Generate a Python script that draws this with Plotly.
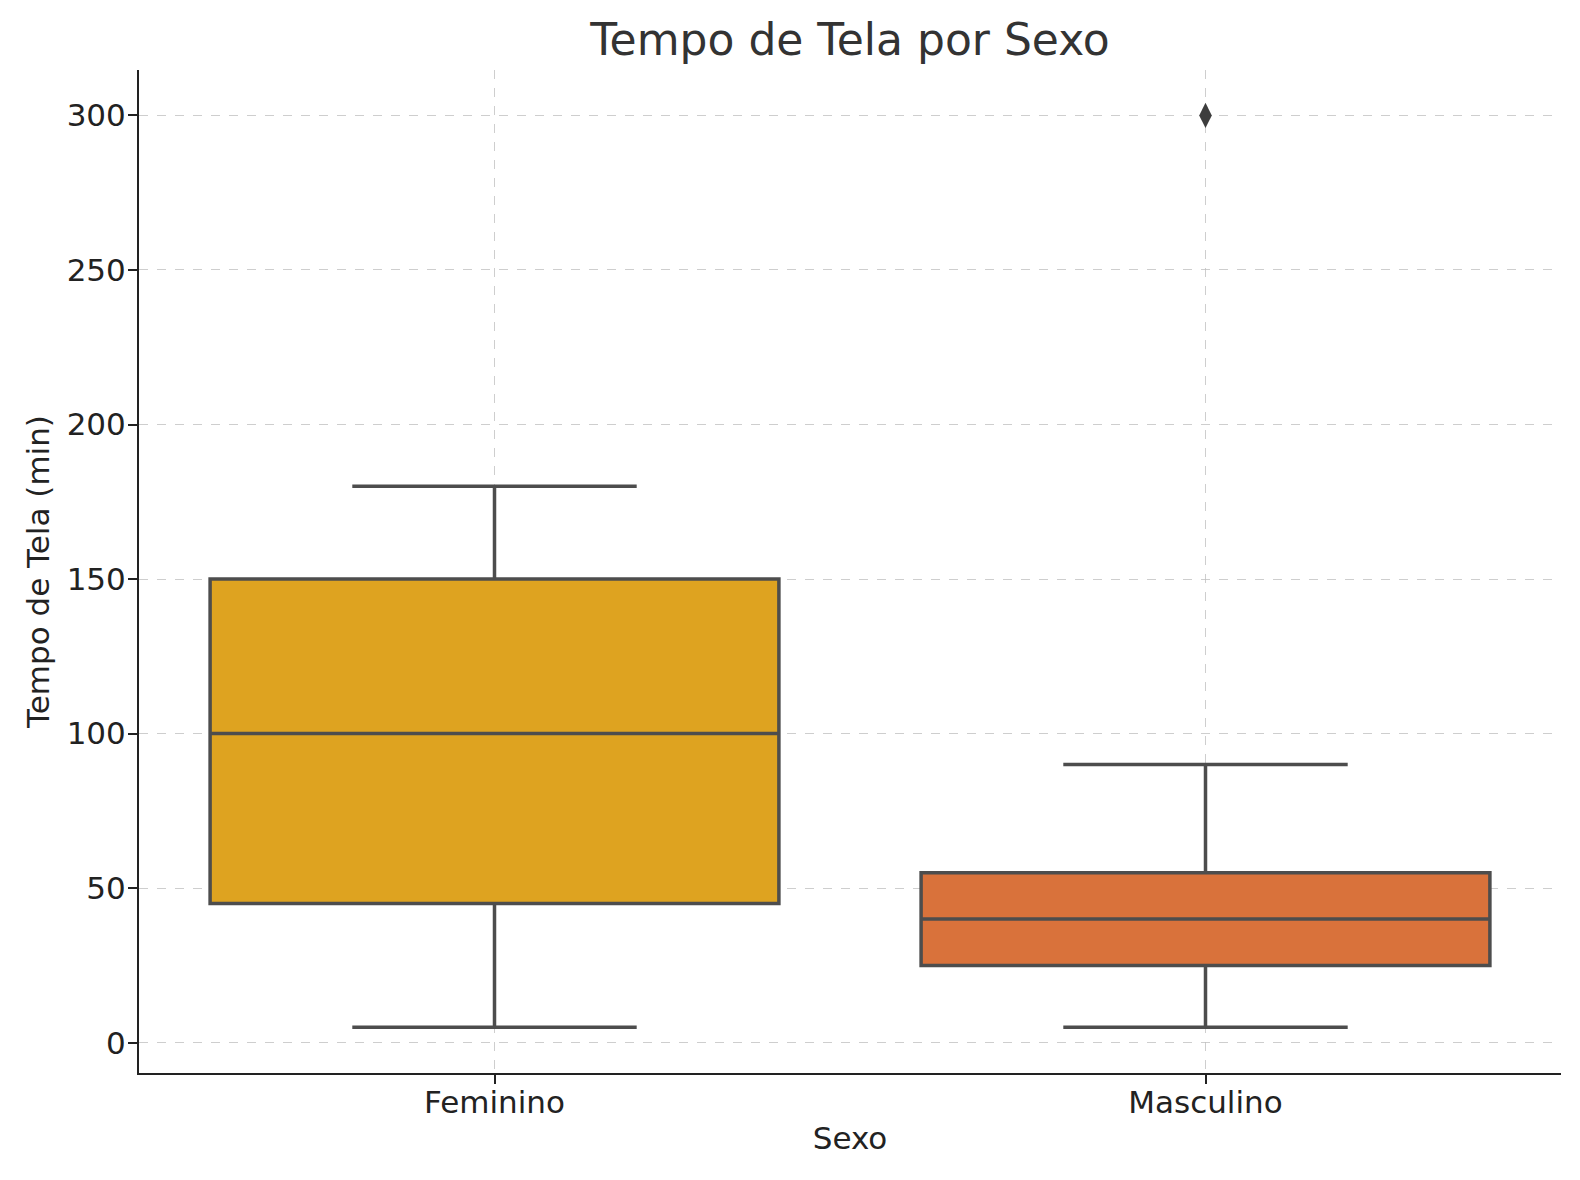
import plotly.graph_objects as go

# dados
sexo = ["Feminino", "Masculino"]
q1 = [45, 25]
mediana = [100, 40]
q3 = [150, 55]
minimo = [5, 5]
maximo = [180, 90]
cores = ["#DEA320", "#D9723B"]
outlier_sexo = ["Masculino"]
outlier_valor = [300]

fig = go.Figure()
for i in range(len(sexo)):
    fig.add_trace(go.Box(x=[sexo[i]], q1=[q1[i]], median=[mediana[i]], q3=[q3[i]],
                         lowerfence=[minimo[i]], upperfence=[maximo[i]],
                         fillcolor=cores[i], line=dict(color="#4d4d4d", width=3.5),
                         width=0.8, whiskerwidth=0.5, boxpoints=False,
                         showlegend=False, hoverinfo="skip"))

fig.add_trace(go.Scatter(x=outlier_sexo, y=outlier_valor, mode="markers",
                         marker=dict(symbol="diamond-tall", size=18, color="#3d3d3d"),
                         showlegend=False))

eixo = dict(showline=True, linecolor="#222222", linewidth=2, ticks="outside",
            ticklen=9, tickwidth=2, tickcolor="#222222",
            showgrid=True, gridcolor="rgba(190,190,190,0.75)", griddash="dash", gridwidth=1,
            zeroline=False, layer="above traces", automargin=False,
            tickfont=dict(size=31, color="#222222"))

fig.update_layout(
    width=1580, height=1180,
    paper_bgcolor="white", plot_bgcolor="white",
    font=dict(family="DejaVu Sans", color="#222222"),
    title=dict(text="Tempo de Tela por Sexo", xref="paper", x=0.5, xanchor="center",
               yref="container", y=1 - 32 / 1180, yanchor="middle",
               font=dict(size=44, color="#333333")),
    margin=dict(l=131, r=27, t=62, b=115),
    xaxis=dict(eixo, title=dict(text="Sexo", standoff=8, font=dict(size=31, color="#222222")),
               range=[-0.5, 1.5], type="category", ticklabelstandoff=-8),
    yaxis=dict(eixo, title=dict(text="Tempo de Tela (min)", standoff=8,
                                font=dict(size=31, color="#222222")),
               range=[-9.8, 314.7], tickvals=[0, 50, 100, 150, 200, 250, 300],
               ticklabelstandoff=-4),
)

fig.write_html("out.html")
